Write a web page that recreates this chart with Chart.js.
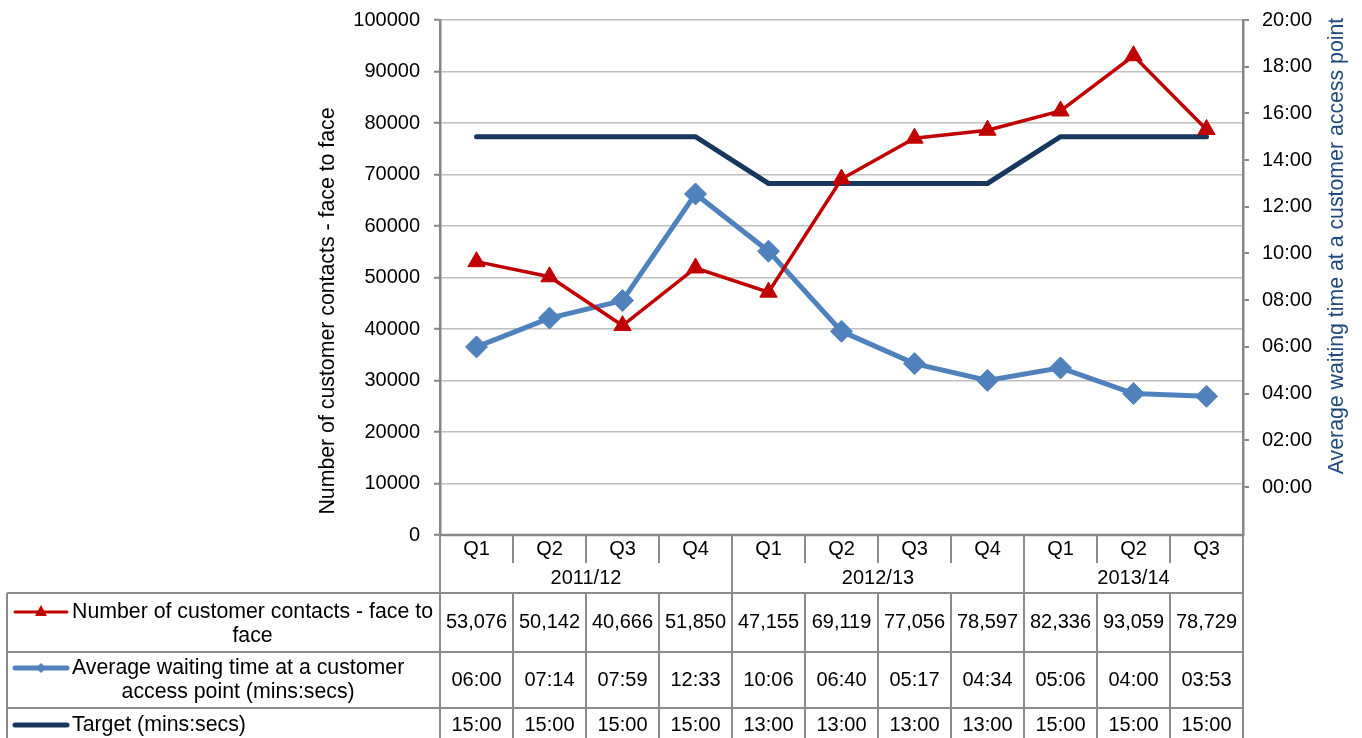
<!DOCTYPE html>
<html>
<head>
<meta charset="utf-8">
<script src="https://cdn.jsdelivr.net/npm/chart.js@4.4.1/dist/chart.umd.min.js"></script>
<style>
  html, body { margin: 0; padding: 0; background: #fff; }
  #wrap { width: 1362px; height: 738px; }
</style>
</head>
<body>
<div id="wrap"><canvas id="chart" width="1362" height="738"></canvas></div>
<script>
// Chart data
const quarters = ['Q1', 'Q2', 'Q3', 'Q4', 'Q1', 'Q2', 'Q3', 'Q4', 'Q1', 'Q2', 'Q3'];
const years = ['2011/12', '2012/13', '2013/14'];
const quartersPerYear = [4, 4, 3];
const contacts = [53076, 50142, 40666, 51850, 47155, 69119, 77056, 78597, 82336, 93059, 78729];
const waitTimes = ['06:00', '07:14', '07:59', '12:33', '10:06', '06:40', '05:17', '04:34', '05:06', '04:00', '03:53'];
const targets = ['15:00', '15:00', '15:00', '15:00', '13:00', '13:00', '13:00', '13:00', '15:00', '15:00', '15:00'];
const rightTicks = [0, 2, 4, 6, 8, 10, 12, 14, 16, 18, 20];

const seriesNames = [
    ['Number of customer contacts - face to', 'face'],
    ['Average waiting time at a customer', 'access point (mins:secs)'],
    ['Target (mins:secs)']
];
const leftTitle = 'Number of customer contacts - face to face';
const rightTitle = 'Average waiting time at a customer access point';

const FONT = '"Liberation Sans", Arial, sans-serif';
const RED = '#C00000';
const BLUE = '#4F81BD';
const NAVY = '#17375E';
const AXIS = '#868686';
const TABLE_LINE = '#8C8C8C';

// "mm:ss" -> minutes
function toMinutes(s) {
    const parts = s.split(':').map(Number);
    return parts[0] + parts[1] / 60;
}
function pad2(n) {
    return (n < 10 ? '0' : '') + n;
}

// Draw axis titles and the data table under the plot
const tablePlugin = {
    id: 'dataTable',
    afterDraw(chart) {
        const ctx = chart.ctx;
        const area = chart.chartArea;
        const x = chart.scales.x;
        const n = quarters.length;
        const centers = quarters.map((q, i) => x.getPixelForValue(i));
        const bounds = [area.left];
        for (let i = 1; i < n; i++) bounds.push((centers[i - 1] + centers[i]) / 2);
        bounds.push(area.right);

        const headerMid = 563;
        const headerBottom = 593;
        const rowLines = [593, 652, 708, 740];
        const tableLeft = 7;
        const canvasBottom = 738;

        // which boundaries separate years
        const yearBreaks = new Set();
        let acc = 0;
        quartersPerYear.forEach(c => { acc += c; yearBreaks.add(acc); });

        ctx.save();

        // axis titles
        ctx.font = '21.3px ' + FONT;
        ctx.textAlign = 'center';
        ctx.textBaseline = 'middle';
        ctx.fillStyle = '#000';
        ctx.save();
        ctx.translate(328, 311);
        ctx.rotate(-Math.PI / 2);
        ctx.fillText(leftTitle, 0, 0);
        ctx.restore();
        ctx.save();
        ctx.fillStyle = '#1F497D';
        ctx.translate(1337, 246);
        ctx.rotate(-Math.PI / 2);
        ctx.fillText(rightTitle, 0, 0);
        ctx.restore();

        // table lines
        ctx.strokeStyle = TABLE_LINE;
        ctx.lineWidth = 2;
        ctx.beginPath();
        for (let i = 1; i < n; i++) {
            const bx = Math.round(bounds[i]);
            ctx.moveTo(bx, area.bottom);
            ctx.lineTo(bx, yearBreaks.has(i) ? canvasBottom : headerMid);
            if (!yearBreaks.has(i)) {
                ctx.moveTo(bx, headerBottom);
                ctx.lineTo(bx, canvasBottom);
            }
        }
        ctx.moveTo(area.left, area.bottom);
        ctx.lineTo(area.left, canvasBottom);
        ctx.moveTo(area.right, area.bottom);
        ctx.lineTo(area.right, canvasBottom);
        ctx.moveTo(tableLeft, headerBottom);
        ctx.lineTo(tableLeft, canvasBottom);
        rowLines.forEach(y => {
            ctx.moveTo(tableLeft, y);
            ctx.lineTo(area.right, y);
        });
        ctx.stroke();

        // x axis line
        ctx.strokeStyle = AXIS;
        ctx.lineWidth = 2.5;
        ctx.beginPath();
        ctx.moveTo(area.left, area.bottom);
        ctx.lineTo(area.right, area.bottom);
        ctx.stroke();

        // header text
        ctx.fillStyle = '#000';
        ctx.font = '20px ' + FONT;
        ctx.textAlign = 'center';
        quarters.forEach((q, i) => ctx.fillText(q, centers[i], 549));
        let start = 0;
        years.forEach((yr, k) => {
            const end = start + quartersPerYear[k];
            ctx.fillText(yr, (bounds[start] + bounds[end]) / 2, 578);
            start = end;
        });

        // row values
        const rowY = [622, 680, 725];
        contacts.forEach((v, i) => ctx.fillText(v.toLocaleString('en-US'), centers[i], rowY[0]));
        waitTimes.forEach((v, i) => ctx.fillText(v, centers[i], rowY[1]));
        targets.forEach((v, i) => ctx.fillText(v, centers[i], rowY[2]));

        // series names with legend keys
        const firstLineY = [612, 668, 725];
        const keyColors = [RED, BLUE, NAVY];
        const keyWidths = [3, 5, 5];
        const textLeft = 72;
        ctx.font = '21.3px ' + FONT;
        seriesNames.forEach((lines, r) => {
            const ky = firstLineY[r];
            ctx.strokeStyle = keyColors[r];
            ctx.lineWidth = keyWidths[r];
            ctx.lineCap = 'round';
            ctx.beginPath();
            ctx.moveTo(15, ky);
            ctx.lineTo(67, ky);
            ctx.stroke();
            ctx.fillStyle = keyColors[r];
            if (r === 0) {
                ctx.beginPath();
                ctx.moveTo(41, ky - 7);
                ctx.lineTo(47, ky + 4);
                ctx.lineTo(35, ky + 4);
                ctx.closePath();
                ctx.fill();
            } else if (r === 1) {
                ctx.beginPath();
                ctx.moveTo(41, ky - 5);
                ctx.lineTo(46, ky);
                ctx.lineTo(41, ky + 5);
                ctx.lineTo(36, ky);
                ctx.closePath();
                ctx.fill();
            }
            ctx.fillStyle = '#000';
            const blockW = Math.max(...lines.map(l => ctx.measureText(l).width));
            lines.forEach((l, j) => {
                ctx.fillText(l, textLeft + blockW / 2, ky + j * 24);
            });
        });

        ctx.restore();
    }
};

function noScalePadding(s) {
    s.paddingTop = 0;
    s.paddingBottom = 0;
}

const ctx = document.getElementById('chart');

new Chart(ctx, {
    type: 'line',
    data: {
        labels: quarters,
        datasets: [
            {
                label: seriesNames[0].join(' '),
                data: contacts,
                yAxisID: 'y',
                borderColor: RED,
                backgroundColor: RED,
                borderWidth: 3.5,
                pointStyle: 'triangle',
                pointRadius: 10,
                pointBorderWidth: 1,
                pointBackgroundColor: RED,
                pointBorderColor: RED,
                tension: 0
            },
            {
                label: seriesNames[1].join(' '),
                data: waitTimes.map(toMinutes),
                yAxisID: 'y1',
                borderColor: BLUE,
                backgroundColor: BLUE,
                borderWidth: 5,
                pointStyle: 'rectRot',
                pointRadius: 11,
                pointBorderWidth: 1,
                pointBackgroundColor: BLUE,
                pointBorderColor: BLUE,
                tension: 0
            },
            {
                label: seriesNames[2].join(' '),
                data: targets.map(toMinutes),
                yAxisID: 'y1',
                borderColor: NAVY,
                borderWidth: 5,
                borderCapStyle: 'round',
                pointRadius: 0,
                tension: 0
            }
        ]
    },
    options: {
        responsive: false,
        animation: false,
        layout: { padding: { left: 310, right: 0, top: 20, bottom: 203 } },
        plugins: {
            legend: { display: false },
            tooltip: { enabled: false }
        },
        scales: {
            x: {
                type: 'category',
                offset: true,
                display: false
            },
            y: {
                position: 'left',
                min: 0,
                max: 100000,
                ticks: {
                    stepSize: 10000,
                    color: '#000',
                    padding: 14,
                    font: { size: 20, family: FONT },
                    callback: v => String(v)
                },
                grid: {
                    color: '#BFBFBF',
                    lineWidth: 1.5,
                    tickLength: 6,
                    tickColor: AXIS,
                    tickWidth: 2
                },
                border: { color: AXIS, width: 2.5 },
                afterFit: s => { s.width = 130; noScalePadding(s); }
            },
            y1: {
                position: 'right',
                min: -2.056,
                max: 20,
                afterBuildTicks: s => { s.ticks = rightTicks.map(v => ({ value: v })); },
                ticks: {
                    color: '#000',
                    padding: 13,
                    font: { size: 20, family: FONT },
                    callback: v => pad2(Math.round(v)) + ':00'
                },
                grid: {
                    drawOnChartArea: false,
                    tickLength: 6,
                    color: AXIS,
                    lineWidth: 2
                },
                border: { color: AXIS, width: 2.5 },
                afterFit: s => { s.width = 119; noScalePadding(s); }
            }
        }
    },
    plugins: [tablePlugin]
});
</script>
</body>
</html>
